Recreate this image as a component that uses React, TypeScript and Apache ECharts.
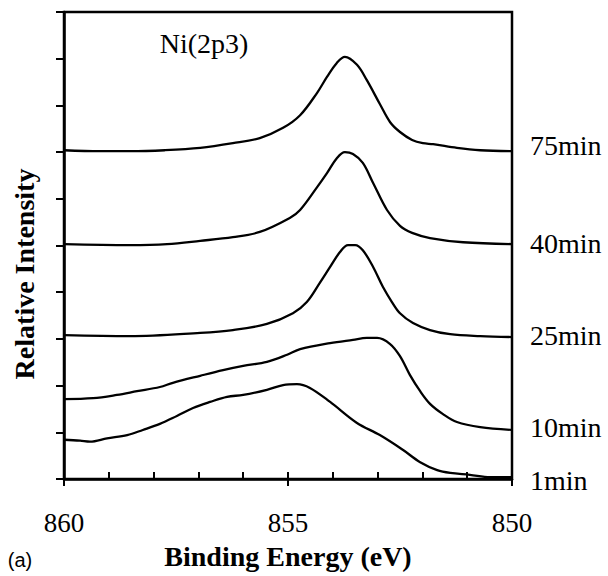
import React, { useEffect, useRef } from "react";
import * as echarts from "echarts";

// Binding energy (eV) / relative intensity pairs
const names = ["75min", "40min", "25min", "10min", "1min"];

const energy75 = [860, 859.2, 858.53, 857.75, 856.96, 856.23, 855.63, 855.11, 854.73, 854.35, 854.13, 853.91, 853.73, 853.46, 853.24, 852.95, 852.72, 852.5, 852.23, 851.99, 851.76, 851.23, 850.71, 850];
const int75 = [7.04, 7.02, 7.02, 7.04, 7.09, 7.19, 7.3, 7.52, 7.79, 8.27, 8.61, 8.91, 9.04, 8.87, 8.54, 8.03, 7.64, 7.43, 7.26, 7.19, 7.17, 7.09, 7.04, 7.02];

const energy40 = [860, 858.53, 857.7, 856.96, 856.23, 855.63, 854.96, 854.73, 854.35, 854.13, 853.91, 853.73, 853.55, 853.33, 853.1, 852.79, 852.5, 852.23, 851.83, 851.09, 850];
const int40 = [5.03, 5.01, 5.03, 5.1, 5.18, 5.29, 5.59, 5.76, 6.25, 6.55, 6.87, 7.0, 6.96, 6.77, 6.34, 5.76, 5.42, 5.27, 5.16, 5.07, 5.03];

const energy25 = [860, 858.53, 856.96, 856.23, 855.47, 854.89, 854.58, 854.29, 854.06, 853.84, 853.66, 853.5, 853.33, 853.1, 852.88, 852.68, 852.5, 852.21, 851.83, 851.38, 850.71, 850];
const int25 = [3.08, 3.06, 3.13, 3.19, 3.32, 3.55, 3.79, 4.2, 4.54, 4.86, 5.01, 5.01, 4.9, 4.54, 4.11, 3.79, 3.55, 3.34, 3.19, 3.1, 3.06, 3.04];

const energy10 = [860, 859.35, 858.82, 858.37, 857.86, 857.57, 856.96, 856.45, 856.0, 855.47, 855.02, 854.73, 854.06, 853.55, 853.24, 853.01, 852.72, 852.5, 852.28, 852.05, 851.83, 851.54, 851.23, 850.71, 850];
const int10 = [1.71, 1.73, 1.8, 1.88, 1.97, 2.06, 2.21, 2.33, 2.42, 2.51, 2.66, 2.78, 2.91, 2.98, 3.02, 3.02, 2.89, 2.63, 2.23, 1.88, 1.61, 1.39, 1.22, 1.11, 1.05];

const energy1 = [860, 859.64, 859.42, 859.04, 858.59, 858.24, 857.86, 857.48, 857.12, 856.74, 856.36, 856.0, 855.47, 855.11, 854.8, 854.51, 854.06, 853.46, 852.95, 852.43, 852.05, 851.67, 851.38, 850.94, 850.49, 850];
const int1 = [0.84, 0.82, 0.8, 0.87, 0.94, 1.05, 1.18, 1.35, 1.52, 1.65, 1.76, 1.8, 1.91, 2.01, 2.03, 1.95, 1.65, 1.2, 0.94, 0.62, 0.36, 0.19, 0.13, 0.09, 0.04, 0.04];

const energies = [energy75, energy40, energy25, energy10, energy1];
const intensities = [int75, int40, int25, int10, int1];

const xTickLabels = [860, 855, 850];

const SERIF = "'Liberation Serif', 'Times New Roman', serif";
const labelOffsets = [-6, -1, -2, -2, 3];

export default function App() {
  const ref = useRef<HTMLDivElement>(null);

  useEffect(() => {
    if (!ref.current) return;
    const chart = echarts.init(ref.current, undefined, { renderer: "svg" });

    const series = names.map((name, i) => ({
      name,
      type: "line",
      xAxisIndex: 0,
      yAxisIndex: 0,
      data: energies[i].map((e, j) => [e, intensities[i][j]]),
      showSymbol: false,
      smooth: 0.35,
      lineStyle: { color: "#000", width: 2.3 },
      silent: true,
    }));

    const staticGraphics: any[] = [
      {
        type: "text",
        x: 204,
        y: 43,
        style: {
          text: "Ni(2p3)",
          font: `28px ${SERIF}`,
          fill: "#000",
          textAlign: "center",
          textVerticalAlign: "middle",
        },
      },
      {
        type: "text",
        x: 24,
        y: 274,
        rotation: Math.PI / 2,
        style: {
          text: "Relative Intensity",
          font: `bold 28px ${SERIF}`,
          fill: "#000",
          textAlign: "center",
          textVerticalAlign: "middle",
        },
      },
      {
        type: "text",
        x: 288,
        y: 556,
        style: {
          text: "Binding Energy (eV)",
          font: `bold 28px ${SERIF}`,
          fill: "#000",
          textAlign: "center",
          textVerticalAlign: "middle",
        },
      },
      {
        type: "text",
        x: 20,
        y: 560,
        style: {
          text: "(a)",
          font: `20px 'Liberation Sans', Arial, sans-serif`,
          fill: "#000",
          textAlign: "center",
          textVerticalAlign: "middle",
        },
      },
    ];

    chart.setOption({
      animation: false,
      backgroundColor: "#fff",
      grid: {
        left: 64,
        right: 96,
        top: 12,
        bottom: 97,
        show: true,
        borderColor: "#000",
        borderWidth: 2.5,
      },
      xAxis: [
        {
          type: "value",
          min: 850,
          max: 860,
          interval: 1,
          inverse: true,
          position: "bottom",
          axisLine: { show: true, lineStyle: { color: "#000", width: 2.5 } },
          axisTick: { show: true, inside: true, length: 7, lineStyle: { color: "#000", width: 2 } },
          axisLabel: {
            margin: 30,
            color: "#000",
            fontFamily: SERIF,
            fontSize: 27,
            formatter: (v: number) => (xTickLabels.includes(Math.round(v)) ? String(Math.round(v)) : ""),
          },
          splitLine: { show: false },
        },
        {
          type: "value",
          min: 850,
          max: 860,
          interval: 5,
          inverse: true,
          position: "bottom",
          axisLine: { show: false },
          axisTick: { show: true, inside: false, length: 7, lineStyle: { color: "#000", width: 2 } },
          axisLabel: { show: false },
          splitLine: { show: false },
        },
      ],
      yAxis: [
        {
          type: "value",
          min: 0,
          max: 10,
          interval: 1,
          position: "left",
          axisLine: { show: true, lineStyle: { color: "#000", width: 2.5 } },
          axisTick: { show: true, inside: false, length: 8, lineStyle: { color: "#000", width: 2 } },
          axisLabel: { show: false },
          splitLine: { show: false },
        },
      ],
      graphic: staticGraphics,
      series,
    });

    // Curve labels placed just right of each curve's end point, via the chart's own scales
    const endLabels = names.map((name, i) => {
      const last = energies[i].length - 1;
      const [px, py] = chart.convertToPixel({ xAxisIndex: 0, yAxisIndex: 0 }, [
        energies[i][last],
        intensities[i][last],
      ]) as number[];
      return {
        type: "text",
        x: px + 18,
        y: py + labelOffsets[i],
        style: {
          text: name,
          font: `28px ${SERIF}`,
          fill: "#000",
          textAlign: "left",
          textVerticalAlign: "middle",
        },
      };
    });
    chart.setOption({ graphic: [...staticGraphics, ...endLabels] });

    return () => chart.dispose();
  }, []);

  return (
    <div
      ref={ref}
      style={{ position: "fixed", left: 0, top: 0, width: 608, height: 576 }}
    />
  );
}
